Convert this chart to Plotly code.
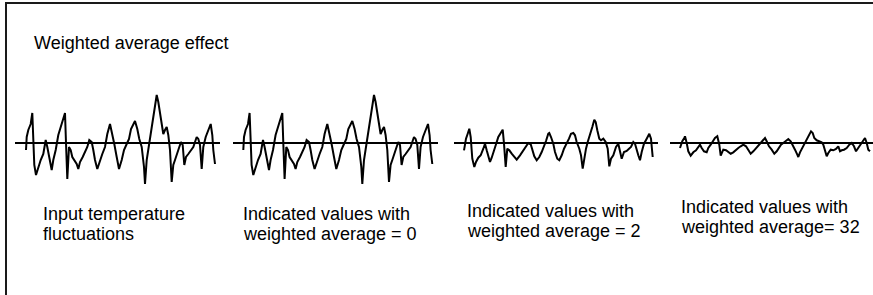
import plotly.graph_objects as go

W, H = 873, 295

# ---- data (time units, deviation units) ----
input_t = [0, 0.7, 2.3, 4.7, 6.3, 7.3, 8.3, 10, 12.3, 14.7, 17.3, 19.7, 21.3, 23.3, 25.7, 27.3,
           29.7, 32.3, 34.7, 37.3, 39, 40, 41.3, 43, 44.7, 46.3, 48, 50.7, 52.3, 54, 56.7, 59,
           61.3, 63.3, 65.7, 67.3, 69, 71.3, 74, 76.3, 79, 81.3, 84, 86.3, 88.3, 90.7, 93, 95.7,
           98, 100.7, 103, 105, 107.3, 109, 111.3, 113.3, 115.7, 118, 119, 120.7, 123, 124.7,
           126.7, 129, 130.7, 132.3, 134, 135.7, 137.3, 139, 140.7, 142.3, 144, 145.7, 147.3,
           149, 151.3, 153.3, 155, 156.7, 158.3, 160, 162.3, 164.7, 167.3, 169, 170.7, 172.3,
           174, 175.7, 177.3, 179.7, 182.3, 184.7, 186.3, 187.3, 189]
input_v = [-7, 6, 13, 19, 30, 9, -22, -32, -24, -17, -11, 3, -4, -14, -27, -17,
           -7, 8, 16, 26, 30, 0, -36, -4, -7, -14, -17, -21, -26, -19, -14, -9,
           -4, 3, 1, -7, -17, -26, -17, -11, -4, 9, 19, 9, -1, -14, -26, -17,
           -7, -1, 4, 14, 19, 22, 14, 4, -4, -24, -41, -17, -2, 9,
           23, 36, 48, 41, 29, 16, 9, 13, 16, 8, -7, -39, -22,
           -17, -11, -4, 1, -2, -22, -14, -11, -7, -4, 1, 6, 4,
           -2, -26, -4, 6, 13, 19, 8, -7, -21]

avg2_t = [0, 2, 3.7, 5.3, 6.7, 8.3, 10.3, 12, 14.3, 16.7, 19.3, 21, 22.7, 24.3, 26, 27.7, 29.3,
          31.7, 34.3, 37, 38.7, 40, 41.7, 43.3, 45.3, 47.7, 50, 52.7, 56, 59.3, 62, 64.3, 66.7,
          68.7, 70.3, 72.7, 75.3, 77.7, 80, 82, 84.3, 85.3, 87, 89.3, 91, 93.3, 95.3, 97.7, 100,
          102.7, 105, 107, 109.3, 111, 112.7, 115.3, 117, 118.7, 120.3, 122, 123.7, 126, 128.3,
          130.3, 131.7, 133.3, 135.3, 137, 139.3, 141.7, 143.7, 145.3, 147, 149.3, 152, 154.3,
          156, 157.7, 160, 162.7, 165, 167, 169.3, 171, 174.3, 176, 177.7, 180, 182.7, 185.3,
          187, 188.7]
avg2_v = [-7.3, 4.3, 9.3, 14.3, 6, -15.7, -24, -19, -14.7, -12.3, -5.7, -0.7, -7.3, -14, -19, -14.7, -9,
          -2.3, 6, 10, 13.3, -0.7, -24, -5.7, -7.3, -10.7, -13.3, -16.7, -12.3, -7.3, -2.3, 0, -1.3,
          -7.3, -13.3, -17.3, -14, -9, -4, 2, 9.3, 10, 6, -0.7, -9, -15.7, -17.3, -12.3, -5.7,
          -0.7, 4.3, 9.3, 10, 7.7, 1, -5.7, -12.3, -25.7, -14, -5.7, 1, 7.7, 16,
          23.3, 21, 12.7, 4.3, 2.7, 4.3, 1, -5.7, -23.3, -15.7, -12.3, -4, -0.7,
          -9, -15.7, -9, -8, -5.7, -4, 1, -0.7, -12.3, -17.3, -9, -0.7, 4.3, 9.3,
          4.3, -14]

avg32_t = [0, 2.3, 4.3, 5, 6.7, 8.3, 10.7, 13.3, 16, 18.3, 20, 21.7, 24, 26.7, 28.3, 30.7, 32.7,
           35, 37.3, 39.3, 40.7, 43.3, 46, 48.3, 50.7, 53.3, 56, 58.3, 60.7, 63.3, 66, 68.3, 70.7,
           73.3, 76, 78.3, 80.7, 83.3, 85, 86.7, 89, 91.7, 94.3, 96.7, 99, 101, 103.3, 106, 108.3,
           110.7, 112.7, 115, 117.3, 118.3, 120, 122.3, 124.3, 126.7, 129, 131, 132.7, 134.3,
           136.7, 139, 141.7, 143.3, 145, 146.7, 148.3, 150.7, 153.3, 156, 158.3, 160, 161.7,
           164, 166.7, 169.3, 171.7, 174, 176, 178.3, 180, 182.7, 185, 186.7, 188.3, 190]
avg32_v = [-5, 1.7, 5, 6.7, 0, -8.3, -12.7, -9.3, -7.3, -3.3, -1.7, -5, -8.3, -9.3, -5, -1.7, 1.7,
           5, 6.7, -1.7, -12.7, -6.7, -7.3, -9.3, -10.7, -9.3, -6.7, -5, -3.3, -1.7, -3.3, -7.3, -10.7,
           -8.3, -5, -3.3, 0, 3.3, 5, 1.7, -3.3, -6.7, -10.7, -8.3, -5, -1.7, 0, 2.7, 4,
           1.7, -1.7, -6.7, -11.7, -14, -9.3, -5, -1.7, 3.3, 8.3, 11.7, 10, 5,
           2.7, 1.7, 0.7, -1.7, -8.3, -13.3, -10, -6.7, -7.3, -6, -3.3, -8.3, -7.3,
           -6.7, -5, -1.7, 0, -3.3, -8.3, -5, -1.7, 1.7, 5, 0, -6.7, -8.3]

title_text = "Weighted average effect"
labels = [
    ["Input temperature", "fluctuations"],
    ["Indicated values with", "weighted average = 0"],
    ["Indicated values with", "weighted average = 2"],
    ["Indicated values with", "weighted average= 32"],
]

series = [(input_t, input_v), (input_t, input_v), (avg2_t, avg2_v), (avg32_t, avg32_v)]

# ---- layout helpers (pixel -> paper) ----
def px(x):
    return x / W

def py(y):
    return 1 - y / H

# per panel: axis-line pixel span, x-range
panels = [
    dict(x0=15, x1=220, rng=[-11, 194]),
    dict(x0=233, x1=438, rng=[-10.3, 194.7]),
    dict(x0=454, x1=658, rng=[-10, 194]),
    dict(x0=670, x1=873, rng=[-10, 193]),
]

fig = go.Figure()
layout = dict(
    width=W, height=H, autosize=False,
    margin=dict(l=0, r=0, t=0, b=0, pad=0),
    paper_bgcolor="white", plot_bgcolor="rgba(0,0,0,0)",
    showlegend=False,
    font=dict(family="Liberation Sans, Arial, sans-serif", size=18, color="black"),
)

for i, ((t, v), p) in enumerate(zip(series, panels)):
    k = "" if i == 0 else str(i + 1)
    fig.add_trace(go.Scatter(
        x=t, y=v, mode="lines",
        line=dict(color="black", width=2),
        xaxis="x" + k, yaxis="y" + k, hoverinfo="skip", cliponaxis=False,
    ))
    layout["xaxis" + k] = dict(
        domain=[px(p["x0"]), px(p["x1"])], range=p["rng"], visible=False,
        anchor="y" + k, fixedrange=True,
    )
    layout["yaxis" + k] = dict(
        domain=[py(198), py(88)], range=[-55, 55], anchor="x" + k,
        showgrid=False, showticklabels=False, ticks="", showline=False,
        zeroline=True, zerolinecolor="black", zerolinewidth=2, fixedrange=True,
    )

fig.update_layout(**layout)

# frame (top + left border)
fig.add_shape(type="line", xref="paper", yref="paper", x0=px(5), x1=1, y0=py(3), y1=py(3),
              line=dict(color="#1a1a1a", width=2))
fig.add_shape(type="line", xref="paper", yref="paper", x0=px(6), x1=px(6), y0=py(2), y1=0,
              line=dict(color="#1a1a1a", width=2))

ann = []
ann.append(dict(text=title_text, x=px(32), y=py(43), xref="paper", yref="paper",
                xanchor="left", yanchor="middle", showarrow=False))
label_x = [41, 241, 465, 679]
label_y = [213.7, 213.5, 211, 207]
for lx, ly, lines in zip(label_x, label_y, labels):
    for j, line in enumerate(lines):
        ann.append(dict(text=line, x=px(lx), y=py(ly + 20 * j), xref="paper", yref="paper",
                        xanchor="left", yanchor="middle", showarrow=False))
fig.update_layout(annotations=ann)

fig.write_html(
    "out.html",
    config={"displayModeBar": False},
    post_script="document.body.style.margin='0';document.body.style.padding='0';"
                "document.body.style.overflow='hidden';"
                "document.documentElement.style.overflow='hidden';",
)
